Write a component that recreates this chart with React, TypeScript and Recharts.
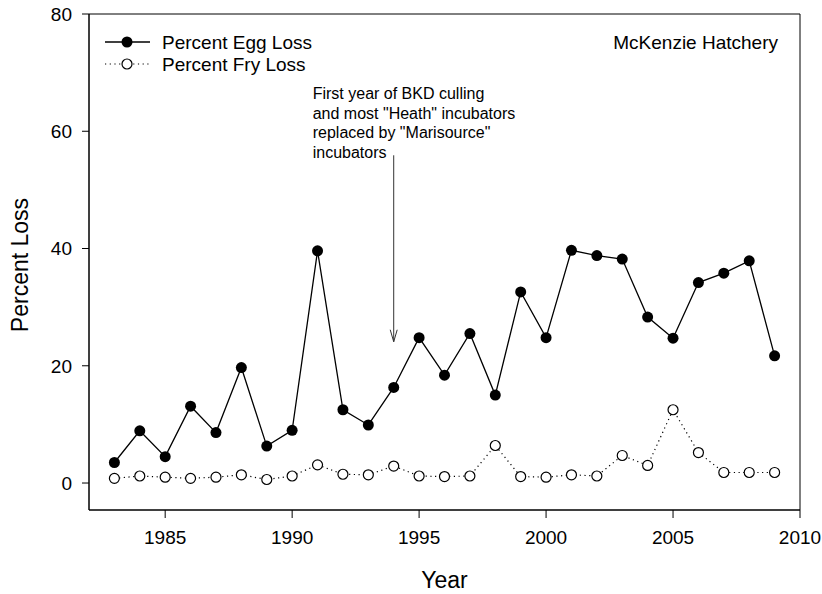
import {
  LineChart,
  Line,
  XAxis,
  YAxis,
  ReferenceArea,
  ReferenceLine,
  ReferenceDot,
  Legend,
} from "recharts";

const years = [
  1983, 1984, 1985, 1986, 1987, 1988, 1989, 1990, 1991, 1992, 1993, 1994, 1995,
  1996, 1997, 1998, 1999, 2000, 2001, 2002, 2003, 2004, 2005, 2006, 2007, 2008,
  2009,
];
const eggLoss = [
  3.5, 8.9, 4.5, 13.1, 8.6, 19.7, 6.3, 9.0, 39.6, 12.5, 9.9, 16.3, 24.8, 18.4,
  25.5, 15.0, 32.6, 24.8, 39.7, 38.8, 38.2, 28.3, 24.7, 34.2, 35.8, 37.9, 21.7,
];
const fryLoss = [
  0.8, 1.2, 1.0, 0.8, 1.0, 1.4, 0.6, 1.2, 3.1, 1.5, 1.4, 2.9, 1.2, 1.1, 1.2,
  6.4, 1.1, 1.0, 1.4, 1.2, 4.7, 3.0, 12.5, 5.2, 1.8, 1.8, 1.8,
];
const xTicks = [1985, 1990, 1995, 2000, 2005, 2010];
const yTicks = [0, 20, 40, 60, 80];
const X_DOMAIN = [1982, 2010];
const Y_DOMAIN = [-4.6, 80];

const annotationLines = [
  "First year of BKD culling",
  'and most "Heath" incubators',
  'replaced by "Marisource"',
  "incubators",
];

const FONT = "'Liberation Sans', Arial, sans-serif";

const data = years.map((year, i) => ({
  year,
  egg: eggLoss[i],
  fry: fryLoss[i],
}));

function LegendBox() {
  return (
    <svg width={240} height={50} style={{ fontFamily: FONT }}>
      <line x1={5} y1={12} x2={50} y2={12} stroke="#000" strokeWidth={1.3} />
      <circle cx={27} cy={12} r={5.5} fill="#000" />
      <text x={62} y={12} fontSize={19} dominantBaseline="central">
        Percent Egg Loss
      </text>
      <line
        x1={5}
        y1={34}
        x2={50}
        y2={34}
        stroke="#000"
        strokeWidth={1.2}
        strokeDasharray="1.2 3.5"
      />
      <circle cx={27} cy={34} r={5} fill="#fff" stroke="#000" strokeWidth={1.2} />
      <text x={62} y={34} fontSize={19} dominantBaseline="central">
        Percent Fry Loss
      </text>
    </svg>
  );
}

export default function App() {
  return (
    <div style={{ position: "absolute", left: 0, top: 0, background: "#fff" }}>
      <LineChart
        width={822}
        height={594}
        data={data}
        margin={{ top: 14, right: 22, left: 0, bottom: 0 }}
      >
        <XAxis
          dataKey="year"
          type="number"
          domain={X_DOMAIN}
          ticks={xTicks}
          allowDataOverflow
          height={84}
          tickSize={8}
          tickMargin={13}
          stroke="#000"
          tick={{ fill: "#000", fontSize: 19, fontFamily: FONT }}
          label={{
            content: ({ viewBox }: any) => (
              <text
                x={viewBox.x + viewBox.width / 2}
                y={viewBox.y + 70}
                textAnchor="middle"
                dominantBaseline="central"
                fontSize={23}
                fontFamily={FONT}
                fill="#000"
              >
                Year
              </text>
            ),
          }}
        />
        <YAxis
          type="number"
          domain={Y_DOMAIN}
          ticks={yTicks}
          allowDataOverflow
          width={89}
          tickSize={7}
          tickMargin={10}
          stroke="#000"
          tick={{ fill: "#000", fontSize: 19, fontFamily: FONT }}
          label={{
            content: ({ viewBox }: any) => {
              const cx = viewBox.x + 20;
              const cy = viewBox.y + viewBox.height / 2 + 3;
              return (
                <text
                  x={cx}
                  y={cy}
                  transform={`rotate(-90, ${cx}, ${cy})`}
                  textAnchor="middle"
                  dominantBaseline="central"
                  fontSize={23}
                  fontFamily={FONT}
                  fill="#000"
                >
                  Percent Loss
                </text>
              );
            },
          }}
        />
        <ReferenceArea
          x1={X_DOMAIN[0]}
          x2={X_DOMAIN[1]}
          y1={Y_DOMAIN[0]}
          y2={Y_DOMAIN[1]}
          fill="none"
          stroke="#000"
          strokeWidth={1}
          label={{
            value: "McKenzie Hatchery",
            position: "insideTopRight",
            offset: 22,
            fontSize: 19,
            fontFamily: FONT,
            fill: "#000",
          }}
        />
        <ReferenceLine
          segment={[
            { x: 1994, y: 55.9 },
            { x: 1994, y: 24.1 },
          ]}
          stroke="#333"
          strokeWidth={1}
        />
        <ReferenceDot
          x={1994}
          y={24.1}
          shape={(p: any) => (
            <path
              d={`M${p.cx - 3.5},${p.cy - 12} L${p.cx},${p.cy} L${p.cx + 3.5},${p.cy - 12}`}
              fill="none"
              stroke="#333"
              strokeWidth={1}
            />
          )}
        />
        <ReferenceDot
          x={1994}
          y={55.9}
          shape={(p: any) => (
            <text fontSize={16} fontFamily={FONT} fill="#000">
              {annotationLines.map((t, i) => (
                <tspan key={i} x={p.cx - 81} y={p.cy - 56 + i * 19.6}>
                  {t}
                </tspan>
              ))}
            </text>
          )}
        />
        <Line
          dataKey="egg"
          name="Percent Egg Loss"
          stroke="#000"
          strokeWidth={1.3}
          dot={{ r: 5.5, fill: "#000", stroke: "#000", strokeWidth: 0 }}
          isAnimationActive={false}
        />
        <Line
          dataKey="fry"
          name="Percent Fry Loss"
          stroke="#000"
          strokeWidth={1.2}
          strokeDasharray="1.2 3.5"
          dot={{ r: 5, fill: "#fff", stroke: "#000", strokeWidth: 1.2, strokeDasharray: "" }}
          isAnimationActive={false}
        />
        <Legend
          layout="horizontal"
          verticalAlign="middle"
          align="center"
          content={() => <LegendBox />}
          wrapperStyle={{ left: 100, top: 30, width: 240, height: 50 }}
        />
      </LineChart>
    </div>
  );
}
